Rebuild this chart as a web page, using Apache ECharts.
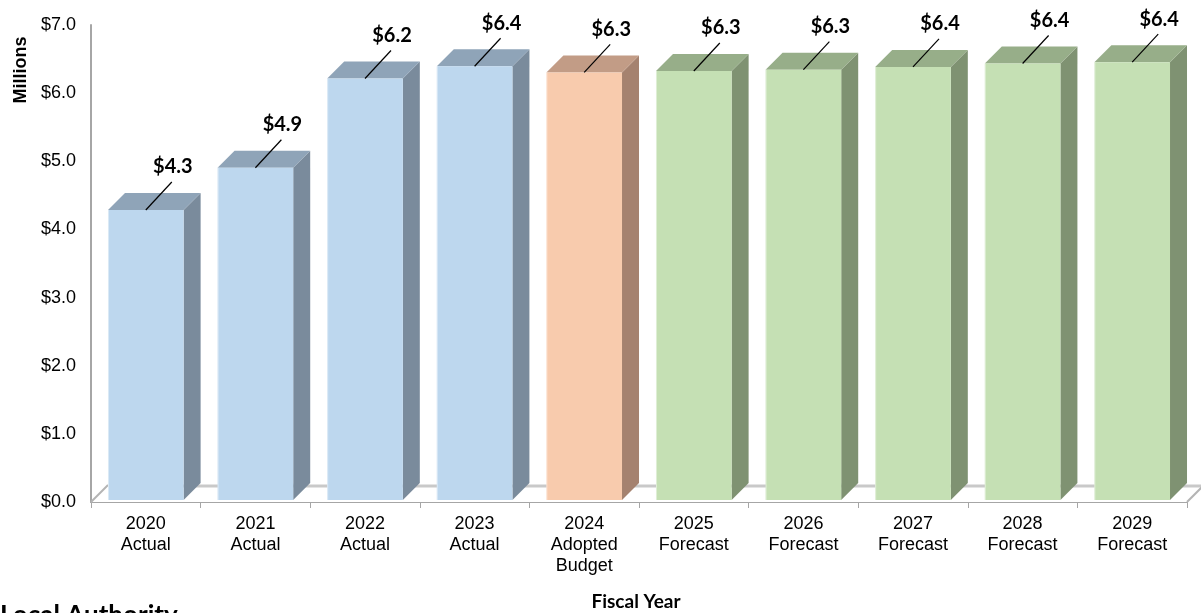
<!DOCTYPE html>
<html>
<head>
<meta charset="utf-8">
<script src="https://cdn.jsdelivr.net/npm/echarts@6/dist/echarts.min.js"></script>
<style>
html,body{margin:0;padding:0;background:#fff;}
#c{width:1201px;height:613px;}
</style>
</head>
<body>
<div id="c"></div>
<script>
// ---- data ----
var years = ['2020','2021','2022','2023','2024','2025','2026','2027','2028','2029'];
var kinds = ['Actual','Actual','Actual','Actual','Adopted\nBudget','Forecast','Forecast','Forecast','Forecast','Forecast'];
var values = [4.27, 4.89, 6.20, 6.38, 6.29, 6.31, 6.33, 6.37, 6.42, 6.44];
var yTicks = [0, 1, 2, 3, 4, 5, 6, 7];
var yTitle = 'Millions';
var xTitle = 'Fiscal Year';
var pageHeading = 'Local Authority';

var categories = years.map(function(y, i){ return y + '\n' + kinds[i]; });

var palette = {
  'Actual':   {front:'#BDD7EE', top:'#8FA4B8', side:'#7A8B9C'},
  'Budget':   {front:'#F8CBAD', top:'#C29C86', side:'#A5826F'},
  'Forecast': {front:'#C5E0B4', top:'#97AE89', side:'#7F9272'}
};
function kindKey(k){ return k.indexOf('Budget') >= 0 ? 'Budget' : k; }

var DEPTH = 17;

var chart = echarts.init(document.getElementById('c'), null, {renderer:'canvas'});

var option = {
  animation: false,
  backgroundColor: '#ffffff',
  grid: {left: 91, right: 14, top: 25, bottom: 111, containLabel: false},
  xAxis: {
    type: 'category',
    data: categories,
    axisLine: {show: true, lineStyle: {color: '#a6a6a6', width: 2}},
    axisTick: {show: true, alignWithLabel: false, length: 6, lineStyle: {color: '#a6a6a6', width: 1}},
    axisLabel: {
      color: '#000', fontFamily: 'Liberation Sans, Arial, sans-serif', fontSize: 18,
      lineHeight: 21, margin: 12, interval: 0
    },
    splitLine: {show: false}
  },
  yAxis: {
    type: 'value',
    min: yTicks[0], max: yTicks[yTicks.length-1], interval: 1,
    axisLine: {show: true, lineStyle: {color: '#a6a6a6', width: 2}},
    axisTick: {show: false},
    splitLine: {show: false},
    axisLabel: {
      color: '#000', fontFamily: 'Liberation Sans, Arial, sans-serif', fontSize: 18, margin: 15,
      padding: [6, 0, 0, 0],
      formatter: function(v){ return '$' + v.toFixed(1); }
    }
  },
  series: [{
    type: 'custom',
    z: 5,
    data: values.map(function(v, i){ return [i, v]; }),
    renderItem: function(params, api){
      var idx = api.value(0);
      var val = api.value(1);
      var top = api.coord([idx, val]);
      var base = api.coord([idx, 0]);
      var band = api.size([1, 0])[0];
      var w = band * 0.69;
      var x0 = top[0] - w/2, x1 = top[0] + w/2;
      var yT = top[1] - 1, yB = base[1] - 2;
      var d = DEPTH;
      var c = palette[kindKey(kinds[params.dataIndex])];
      var cx = top[0];
      return {
        type: 'group',
        children: [
          {type:'polygon', shape:{points:[[x1,yT],[x1+d,yT-d],[x1+d,yB-d],[x1,yB]]}, style:{fill:c.side}},
          {type:'polygon', shape:{points:[[x0,yT],[x0+d,yT-d],[x1+d,yT-d],[x1,yT]]}, style:{fill:c.top}},
          {type:'rect', shape:{x:x0, y:yT, width:w, height:yB-yT}, style:{fill:c.front}},
          {type:'line', shape:{x1:x0+0.5, y1:yT, x2:x0+0.5, y2:yB}, style:{stroke:'rgba(255,255,255,0.45)', lineWidth:1}},
          {type:'line', shape:{x1:cx, y1:yT, x2:cx+26, y2:yT-28}, style:{stroke:'#000', lineWidth:1.2}},
          {type:'text', x: cx+27, y: yT-43, style:{text:'$' + val.toFixed(1), fill:'#000',
            font:'bold 20px Lato, "Open Sans", sans-serif', align:'center', verticalAlign:'middle'}}
        ]
      };
    }
  }]
};
chart.setOption(option);

// floor, titles
function drawExtras(){
  var p0 = chart.convertToPixel({xAxisIndex:0, yAxisIndex:0}, [0, 0]);
  var xl = 91, xr = 1201 - 14, yb = p0[1], d = DEPTH;
  chart.setOption({
    graphic: [
      {type:'polygon', z:1, shape:{points:[[xl,yb],[xr,yb],[xr+d,yb-d],[xl+d,yb-d]]}, style:{fill:'#ffffff'}},
      {type:'line', z:1, shape:{x1:xl+d, y1:yb-d+1, x2:xr+d, y2:yb-d+1}, style:{stroke:'#c9c9c9', lineWidth:3}},
      {type:'line', z:1, shape:{x1:xl, y1:yb, x2:xl+d, y2:yb-d}, style:{stroke:'#b4b4b4', lineWidth:2}},
      {type:'line', z:1, shape:{x1:xr, y1:yb, x2:xr+d, y2:yb-d}, style:{stroke:'#b4b4b4', lineWidth:2}},
      {type:'text', z:10, x: 636, y: 602, style:{text: xTitle, fill:'#000', font:'bold 19px Lato, sans-serif', align:'center', verticalAlign:'middle'}},
      {type:'text', z:10, x: 21, y: 70, rotation: Math.PI/2, style:{text: yTitle, fill:'#000', font:'bold 18px "Liberation Sans", Arial, sans-serif', align:'center', verticalAlign:'middle'}},
      {type:'text', z:10, x: 0, y: 603, style:{text: pageHeading, fill:'#000', font:'bold 26px Lato, sans-serif', align:'left', verticalAlign:'top'}}
    ]
  });
}
drawExtras();
</script>
</body>
</html>
